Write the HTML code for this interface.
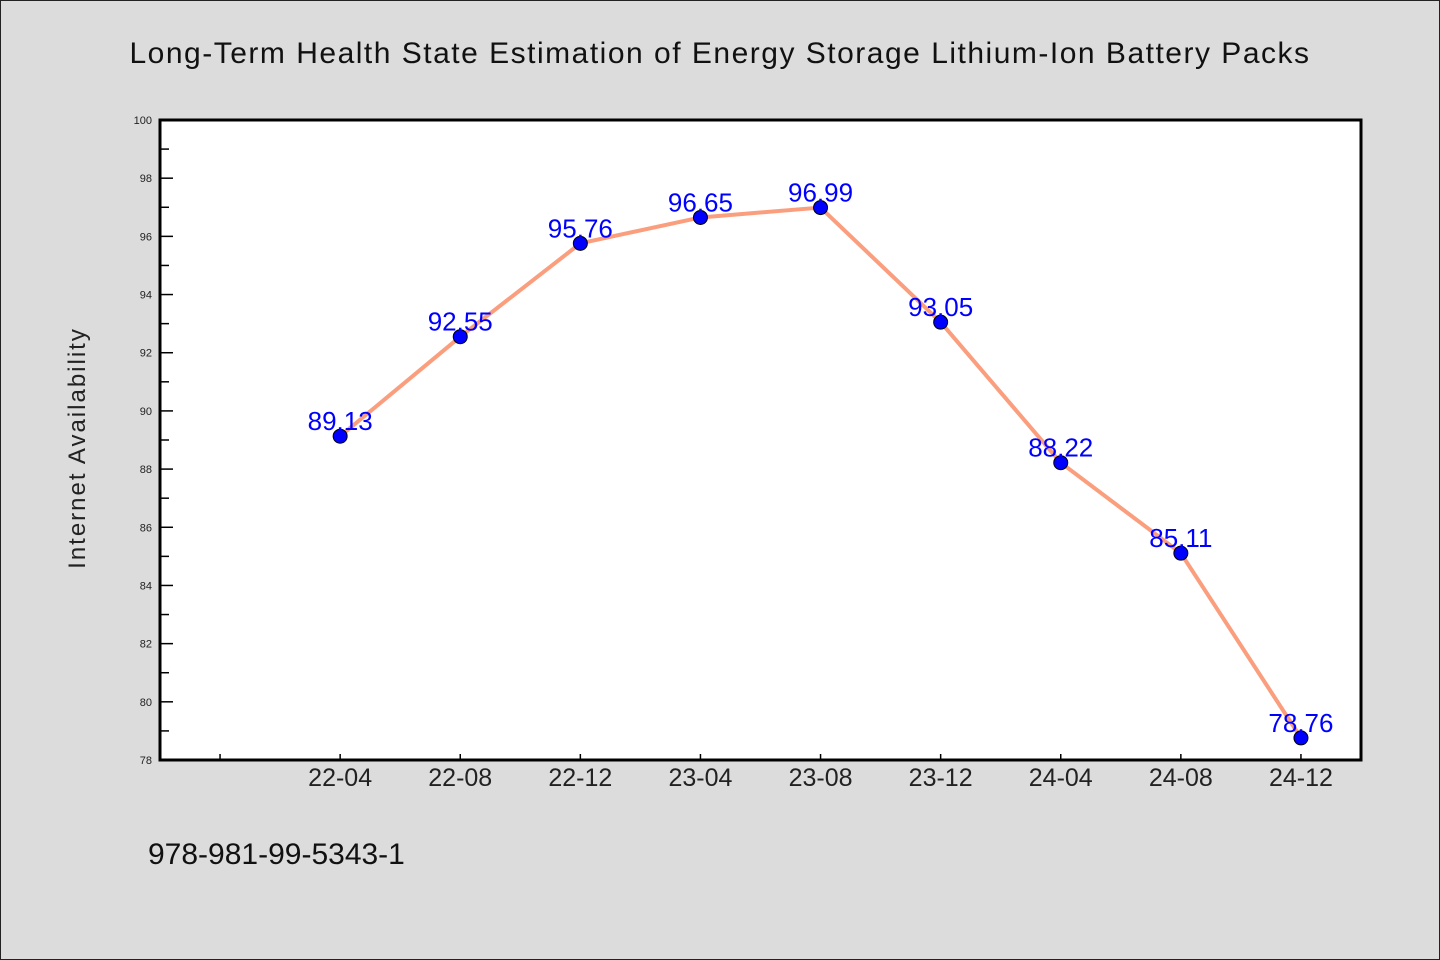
<!DOCTYPE html>
<html><head><meta charset="utf-8"><style>
html,body{margin:0;padding:0;background:#dcdcdc;}
svg{display:block;font-family:"WenQuanYi Zen Hei","Liberation Sans",sans-serif;}
</style></head><body>
<svg id="chart" width="1440" height="960" viewBox="0 0 1440 960">
<rect x="0.5" y="0.5" width="1439" height="959" fill="#dcdcdc" stroke="#222"/>
<text x="720" y="63" text-anchor="middle" font-size="30" fill="#111" letter-spacing="1.5">Long-Term Health State Estimation of Energy Storage Lithium-Ion Battery Packs</text>
<rect x="160" y="120" width="1201" height="640" fill="#fff"/>
<g id="axes"></g>
<g id="series"></g>
<rect x="160" y="120" width="1201" height="640" fill="none" stroke="#000" stroke-width="3"/>
<text transform="translate(85,448) rotate(-90)" text-anchor="middle" font-size="24" fill="#222" letter-spacing="2">Internet Availability</text>
<text x="148" y="864" font-size="30" fill="#111">978-981-99-5343-1</text>
</svg>
<script>
const categories=["22-04","22-08","22-12","23-04","23-08","23-12","24-04","24-08","24-12"];
const values=[89.13,92.55,95.76,96.65,96.99,93.05,88.22,85.11,78.76];
const valueLabels=["89.13","92.55","95.76","96.65","96.99","93.05","88.22","85.11","78.76"];
const yTicks=[78,80,82,84,86,88,90,92,94,96,98,100];
const NS="http://www.w3.org/2000/svg";
const X0=160,X1=1361,Y0=760,Y1=120,YMIN=78,YMAX=100,XMIN=-1.5,XMAX=8.5;
function xs(i){return X0+(i-XMIN)/(XMAX-XMIN)*(X1-X0);}
function ys(v){return Y0-(v-YMIN)/(YMAX-YMIN)*(Y0-Y1);}
function mk(t,a,p){const e=document.createElementNS(NS,t);for(const k in a)e.setAttribute(k,a[k]);p.appendChild(e);return e;}
const ax=document.getElementById('axes'),sr=document.getElementById('series');
yTicks.forEach((v,i)=>{
  const y=ys(v);
  const t=mk('line',{x1:X0,x2:X0+13,y1:y,y2:y,stroke:'#000','stroke-width':1.5},ax);
  
  
  const l=mk('text',{x:X0-8,y:y+4,'text-anchor':'end','font-size':11,fill:'#222'},ax);
  l.textContent=String(v);
  
  
  if(i<yTicks.length-1){
    const m=ys(v+1);
    const mt=mk('line',{x1:X0,x2:X0+9,y1:m,y2:m,stroke:'#000','stroke-width':1.5},ax);
    
    
  }
});
for(let i=-1;i<categories.length;i++){
  const x=xs(i);
  const t=mk('line',{x1:x,x2:x,y1:Y0,y2:Y0-6,stroke:'#000','stroke-width':1.5},ax);
  
  
  if(i>=0){
    const l=mk('text',{x:x,y:786,'text-anchor':'middle','font-size':25,fill:'#222'},ax);
    l.textContent=categories[i];
    
    
  }
}
const pts=values.map((v,i)=>xs(i)+','+ys(v)).join(' ');
const pl=mk('polyline',{points:pts,fill:'none',stroke:'#fa9e7e','stroke-width':4,'stroke-linejoin':'round'},sr);


values.forEach((v,i)=>{
  const c=mk('circle',{cx:xs(i),cy:ys(v),r:7,fill:'#0000ff',stroke:'#000','stroke-width':1},sr);
  
  
  const l=mk('text',{x:xs(i),y:ys(v)-6,'text-anchor':'middle','font-size':26,fill:'#0000ff'},sr);
  l.textContent=valueLabels[i];
  
  
});
</script>
</body></html>
